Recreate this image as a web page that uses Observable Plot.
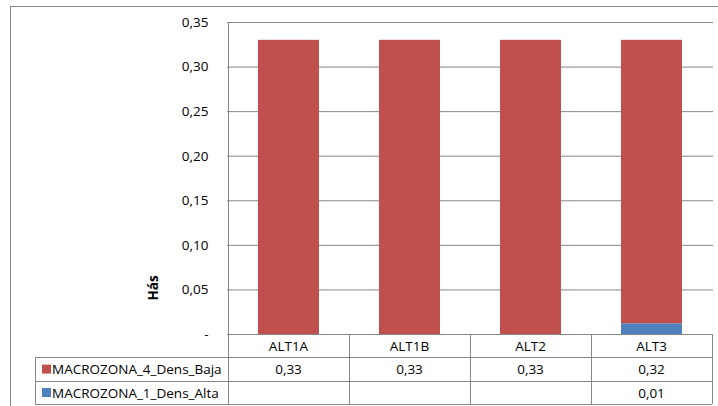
<!DOCTYPE html>
<html><head><meta charset="utf-8">
<script src="https://cdn.jsdelivr.net/npm/d3@7"></script>
<script src="https://cdn.jsdelivr.net/npm/@observablehq/plot@0.6"></script>
<style>
html,body{margin:0;padding:0;background:#fff;}
#chart svg{display:block;}
</style>
</head><body><div id="chart"></div>
<script>
const categories = ["ALT1A","ALT1B","ALT2","ALT3"];
const seriesNames = ["MACROZONA_4_Dens_Baja","MACROZONA_1_Dens_Alta"];
const bajaValues = [0.33, 0.33, 0.33, 0.318];
const altaValues = [null, null, null, 0.012];
const seriesColors = ["#C0504D", "#4F81BD"];
const yTicks = [0, 0.05, 0.10, 0.15, 0.20, 0.25, 0.30, 0.35];
const yLabel = "Hás";

const seriesValues = [bajaValues, altaValues];
// stack order: Alta at bottom, Baja on top
const rows = [];
[1, 0].forEach(si => categories.forEach((c, i) => {
  const v = seriesValues[si][i];
  if (v != null) rows.push({cat: c, series: seriesNames[si], value: v});
}));

const fmt = d => d === 0 ? "-" : d.toFixed(2).replace(".", ",");
const FONT = "'Open Sans', sans-serif";
const FS = 13.5;
const grey = "#868686";

const plot = Plot.plot({
  width: 718, height: 406,
  marginLeft: 227, marginRight: 5, marginTop: 22, marginBottom: 72,
  style: {fontFamily: FONT, fontSize: FS + "px", color: "#000", background: "#fff"},
  x: {domain: categories, padding: 0, axis: null},
  y: {domain: [0, 0.35], axis: null},
  color: {domain: seriesNames, range: seriesColors},
  marks: [
    Plot.gridY(yTicks, {stroke: grey, strokeOpacity: 1}),
    Plot.barY(rows, Plot.stackY({x: "cat", y: "value", fill: "series", insetLeft: 30, insetRight: 30, order: null})),
    Plot.axisY({ticks: yTicks, tickSize: 0, tickPadding: 19, tickFormat: fmt, label: null, fontSize: FS})
  ]
});
document.getElementById("chart").appendChild(plot);

const svg = d3.select(plot);
const xs = plot.scale("x");
const ys = plot.scale("y");
const bw = xs.bandwidth;
const left = xs.apply(categories[0]);
const right = xs.apply(categories[categories.length - 1]) + bw;
const y0 = ys.apply(0);
const rowH = 23.4;
const tableLeft = 35;
const g = svg.append("g").attr("font-family", FONT).attr("font-size", FS).attr("fill", "#000");

// outer chart frame
g.append("rect").attr("x", 10.5).attr("y", 6.5).attr("width", 800).attr("height", 500)
  .attr("fill", "none").attr("stroke", grey);
// left axis line
g.append("line").attr("x1", Math.round(left) + 0.5).attr("x2", Math.round(left) + 0.5).attr("y1", ys.apply(0.35)).attr("y2", y0).attr("stroke", grey);

// table horizontal lines
const hl = [[left, y0], [tableLeft, y0 + rowH], [tableLeft, y0 + 2 * rowH], [tableLeft, y0 + 3 * rowH]];
hl.forEach(([x1, y]) => g.append("line").attr("x1", x1).attr("x2", right).attr("y1", Math.round(y) + 0.5).attr("y2", Math.round(y) + 0.5).attr("stroke", grey));
// vertical lines
g.append("line").attr("x1", tableLeft + 0.5).attr("x2", tableLeft + 0.5).attr("y1", y0 + rowH).attr("y2", y0 + 3 * rowH).attr("stroke", grey);
categories.forEach(c => {
  const x = Math.round(xs.apply(c)) + 0.5;
  g.append("line").attr("x1", x).attr("x2", x).attr("y1", y0).attr("y2", y0 + 3 * rowH).attr("stroke", grey);
});
g.append("line").attr("x1", Math.round(right) + 0.5).attr("x2", Math.round(right) + 0.5).attr("y1", y0).attr("y2", y0 + 3 * rowH).attr("stroke", grey);

// header row
categories.forEach(c => {
  g.append("text").attr("x", xs.apply(c) + bw / 2).attr("y", y0 + rowH / 2).attr("text-anchor", "middle")
    .attr("dominant-baseline", "central").text(c);
});
// series rows
seriesNames.forEach((s, si) => {
  const cy = y0 + rowH * (si + 1) + rowH / 2;
  g.append("rect").attr("x", 42).attr("y", cy - 4.5).attr("width", 9).attr("height", 9).attr("fill", seriesColors[si]);
  g.append("text").attr("x", 52).attr("y", cy).attr("text-anchor", "start").attr("dominant-baseline", "central").text(s);
  categories.forEach((c, i) => {
    const v = seriesValues[si][i];
    if (v != null) g.append("text").attr("x", xs.apply(c) + bw / 2).attr("y", cy).attr("text-anchor", "middle")
      .attr("dominant-baseline", "central").text(fmt(v));
  });
});
// y axis label
g.append("text").attr("transform", "translate(153,288) rotate(-90)").attr("text-anchor", "middle")
  .attr("dominant-baseline", "central").attr("font-weight", "bold").text(yLabel);
</script>
</body></html>
